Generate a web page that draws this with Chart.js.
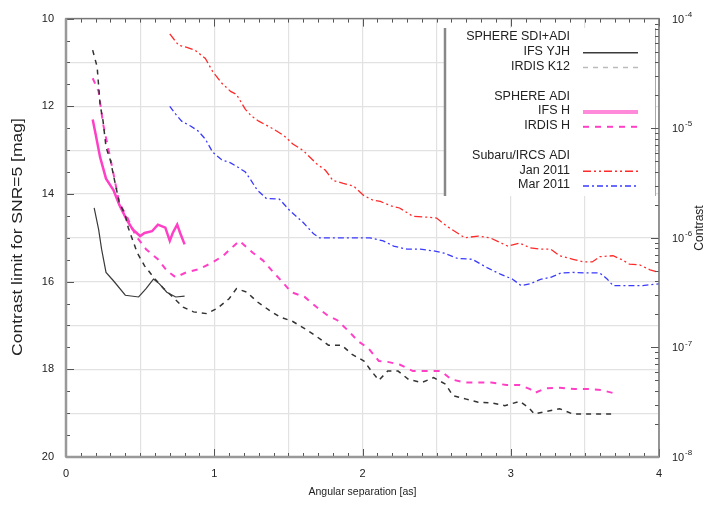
<!DOCTYPE html>
<html>
<head>
<meta charset="utf-8">
<title>Contrast curves</title>
<script src="https://cdn.jsdelivr.net/npm/chart.js@4.4.1/dist/chart.umd.min.js"></script>
<style>
  html, body { margin: 0; padding: 0; background: #fff; }
  #wrap { width: 712px; height: 505px; }
</style>
</head>
<body>
<div id="wrap"><canvas id="contrast" width="712" height="505"></canvas></div>
<script>
// ===== DATA (separation in arcsec, contrast limit in mag) =====
const ifsYjhSep = [0.19, 0.22, 0.24, 0.27, 0.32, 0.40, 0.49, 0.54, 0.59, 0.63, 0.68, 0.74, 0.80];
const ifsYjhMag = [14.32, 14.81, 15.26, 15.79, 15.98, 16.31, 16.35, 16.16, 15.94, 16.05, 16.24, 16.35, 16.33];

const irdisK12Sep = [0.18, 0.21, 0.23, 0.25, 0.27, 0.30, 0.32, 0.36, 0.40, 0.42, 0.48, 0.53, 0.60, 0.66, 0.72, 0.79,
  0.86, 0.95, 1.02, 1.10, 1.15, 1.22, 1.29, 1.37, 1.44, 1.53, 1.61, 1.69, 1.77, 1.86, 1.93, 2.01, 2.06, 2.11, 2.17,
  2.24, 2.31, 2.40, 2.48, 2.56, 2.61, 2.70, 2.78, 2.88, 2.96, 3.06, 3.12, 3.16, 3.24, 3.33, 3.42, 3.51, 3.60, 3.69];
const irdisK12Mag = [10.72, 11.10, 11.96, 12.34, 12.93, 13.24, 13.57, 14.21, 14.48, 14.77, 15.34, 15.64, 15.94, 16.16,
  16.35, 16.58, 16.69, 16.73, 16.61, 16.39, 16.16, 16.24, 16.46, 16.65, 16.80, 16.91, 17.07, 17.25, 17.45, 17.45,
  17.66, 17.81, 18.04, 18.25, 18.04, 18.04, 18.23, 18.30, 18.19, 18.34, 18.60, 18.68, 18.75, 18.77, 18.83, 18.73,
  18.87, 19.02, 18.96, 18.90, 19.02, 19.02, 19.02, 19.02];

const ifsHSep = [0.18, 0.20, 0.23, 0.27, 0.32, 0.36, 0.41, 0.45, 0.50, 0.53, 0.58, 0.62, 0.67, 0.70, 0.72, 0.75, 0.77, 0.80];
const ifsHMag = [12.30, 12.64, 13.16, 13.65, 13.91, 14.25, 14.59, 14.81, 14.96, 14.89, 14.85, 14.70, 14.77, 15.07,
  14.89, 14.70, 14.89, 15.15];

const irdisHSep = [0.18, 0.22, 0.25, 0.30, 0.36, 0.41, 0.47, 0.54, 0.62, 0.68, 0.74, 0.81, 0.90, 0.99, 1.06, 1.13,
  1.17, 1.26, 1.33, 1.40, 1.46, 1.52, 1.61, 1.69, 1.76, 1.83, 1.91, 1.97, 2.04, 2.11, 2.17, 2.25, 2.34, 2.43, 2.53,
  2.60, 2.69, 2.79, 2.87, 2.97, 3.06, 3.13, 3.16, 3.24, 3.33, 3.43, 3.52, 3.61, 3.70];
const irdisHMag = [11.36, 11.66, 12.40, 13.20, 14.21, 14.51, 14.95, 15.26, 15.49, 15.75, 15.90, 15.79, 15.71, 15.56,
  15.41, 15.19, 15.07, 15.34, 15.52, 15.79, 16.01, 16.24, 16.35, 16.58, 16.76, 16.88, 17.14, 17.36, 17.52, 17.81,
  17.83, 17.89, 18.04, 18.04, 18.04, 18.23, 18.30, 18.30, 18.30, 18.36, 18.36, 18.45, 18.54, 18.43, 18.42, 18.45,
  18.45, 18.47, 18.55];

const jan2011Sep = [0.70, 0.76, 0.81, 0.87, 0.94, 0.99, 1.05, 1.11, 1.15, 1.21, 1.25, 1.30, 1.40, 1.47, 1.53, 1.60,
  1.69, 1.75, 1.80, 1.87, 1.94, 2.01, 2.07, 2.12, 2.19, 2.25, 2.34, 2.44, 2.50, 2.57, 2.64, 2.69, 2.78, 2.86, 2.93,
  2.98, 3.06, 3.13, 3.20, 3.27, 3.33, 3.42, 3.49, 3.55, 3.60, 3.69, 3.75, 3.80, 3.87, 3.94, 4.00];
const jan2011Mag = [10.35, 10.61, 10.65, 10.72, 10.91, 11.21, 11.47, 11.66, 11.73, 12.07, 12.22, 12.34, 12.52, 12.67,
  12.86, 13.01, 13.31, 13.46, 13.69, 13.76, 13.82, 14.04, 14.14, 14.17, 14.27, 14.32, 14.51, 14.53, 14.55, 14.74,
  14.89, 15.00, 14.96, 15.00, 15.11, 15.19, 15.12, 15.23, 15.26, 15.26, 15.41, 15.49, 15.55, 15.55, 15.43, 15.41,
  15.50, 15.60, 15.62, 15.73, 15.79];

const mar2011Sep = [0.70, 0.74, 0.78, 0.84, 0.89, 0.94, 0.99, 1.05, 1.11, 1.16, 1.21, 1.24, 1.29, 1.35, 1.44, 1.51,
  1.60, 1.67, 1.71, 1.80, 1.89, 1.96, 2.05, 2.14, 2.21, 2.30, 2.39, 2.48, 2.55, 2.64, 2.74, 2.84, 2.93, 3.01, 3.07,
  3.13, 3.20, 3.27, 3.34, 3.42, 3.51, 3.60, 3.65, 3.69, 3.78, 3.89, 4.00];
const mar2011Mag = [12.00, 12.18, 12.34, 12.45, 12.56, 12.75, 13.05, 13.22, 13.29, 13.39, 13.50, 13.65, 13.91, 14.10,
  14.12, 14.38, 14.65, 14.91, 15.00, 15.00, 15.00, 15.00, 15.00, 15.07, 15.19, 15.26, 15.26, 15.30, 15.35, 15.47,
  15.49, 15.68, 15.83, 15.94, 16.09, 16.05, 15.95, 15.90, 15.80, 15.79, 15.80, 15.80, 15.94, 16.09, 16.09, 16.09, 16.05];

// axis ticks
const sepTicks = [0, 1, 2, 3, 4];
const magTicks = [10, 12, 14, 16, 18, 20];
const contrastExp = [-4, -5, -6, -7, -8];

// legend layout: headings have no dataset, '' is a spacer row
const legendRows = [
  { text: 'SPHERE SDI+ADI' }, { set: 0 }, { set: 1 }, { text: '' },
  { text: 'SPHERE ADI' }, { set: 2 }, { set: 3 }, { text: '' },
  { text: 'Subaru/IRCS ADI' }, { set: 4 }, { set: 5 }
];

const FONT = "'Liberation Sans', Arial, Helvetica, sans-serif";
const zip = (xs, ys) => xs.map((x, i) => ({ x, y: ys[i] }));

function series(label, xs, ys, color, width, dash, legendColor) {
  return {
    label, data: zip(xs, ys),
    borderColor: color, backgroundColor: color,
    borderWidth: width, borderDash: dash,
    pointRadius: 0, tension: 0, fill: false,
    legendColor: legendColor || color
  };
}

// rotated / stretched text helper
function drawText(ctx, s, x, y, size, rot, stretch, align) {
  ctx.save();
  ctx.translate(x, y);
  ctx.rotate(rot || 0);
  ctx.scale(stretch || 1, 1);
  ctx.font = size + 'px ' + FONT;
  ctx.textAlign = align || 'center';
  ctx.textBaseline = 'middle';
  ctx.fillText(s, 0, 0);
  ctx.restore();
}

const framePlugin = {
  id: 'frame',
  afterDatasetsDraw(chart) {
    const { ctx, chartArea: a, scales } = chart;
    const sx = scales.x, sy = scales.y, sr = scales.y2;
    const seg = (x1, y1, x2, y2) => { ctx.beginPath(); ctx.moveTo(x1, y1); ctx.lineTo(x2, y2); ctx.stroke(); };
    ctx.save();

    // legend panel
    const lx0 = 445, lx1 = 655, ly0 = 28, ly1 = 196;
    ctx.fillStyle = '#fff';
    ctx.fillRect(lx0, ly0, lx1 - lx0, ly1 - ly0);
    ctx.strokeStyle = '#888';
    ctx.lineWidth = 2.5;
    seg(lx0, ly0, lx0, ly1);
    ctx.strokeStyle = '#aaa';
    ctx.lineWidth = 1;
    seg(lx1 + 0.5, ly0, lx1 + 0.5, ly1);
    ctx.fillStyle = '#222';
    legendRows.forEach((r, i) => {
      const ry = 37 + i * 14.8;
      if (r.set === undefined) {
        if (r.text) drawText(ctx, r.text, 570, ry, 12.5, 0, 1, 'right');
        return;
      }
      const ds = chart.data.datasets[r.set];
      ctx.fillStyle = '#222';
      drawText(ctx, ds.label, 570, ry, 12.5, 0, 1, 'right');
      ctx.save();
      ctx.strokeStyle = ds.legendColor;
      ctx.lineWidth = r.set === 2 ? 4 : Math.max(ds.borderWidth, 1.5);
      ctx.setLineDash(ds.borderDash || []);
      seg(583, ry + 1, 638, ry + 1);
      ctx.restore();
    });

    // inward tick marks
    ctx.strokeStyle = '#555';
    ctx.lineWidth = 1;
    for (let i = 0; i <= 40; i++) {
      const px = Math.round(sx.getPixelForValue(i / 10)) + 0.5;
      const len = i % 10 === 0 ? 8 : 4;
      seg(px, a.bottom, px, a.bottom - len);
      seg(px, a.top, px, a.top + len);
    }
    for (let m = 10; m <= 20; m += 0.5) {
      const py = Math.round(sy.getPixelForValue(m)) + 0.5;
      const len = m % 2 === 0 ? 8 : 4;
      seg(a.left, py, a.left + len, py);
    }
    for (let e = -8; e < -4; e++) {
      for (let k = 1; k <= 9; k++) {
        const py = Math.round(sr.getPixelForValue(k * Math.pow(10, e))) + 0.5;
        seg(a.right, py, a.right - (k === 1 ? 8 : 4), py);
      }
    }

    // frame
    ctx.strokeStyle = '#777';
    ctx.lineWidth = 1.5;
    ctx.strokeRect(a.left, a.top, a.right - a.left, a.bottom - a.top);
    ctx.strokeStyle = '#999';
    ctx.lineWidth = 2.5;
    seg(a.left, a.top, a.left, a.bottom);
    seg(a.left, a.bottom, a.right, a.bottom);

    // right axis labels, 10^n
    ctx.fillStyle = '#222';
    contrastExp.forEach(e => {
      const py = sr.getPixelForValue(Math.pow(10, e));
      drawText(ctx, '10', 672, py + 1, 11, 0, 1, 'left');
      drawText(ctx, String(e), 685, py - 4, 8, 0, 1, 'left');
    });

    // axis titles
    drawText(ctx, 'Contrast limit for SNR=5 [mag]', 18, 237, 14, -Math.PI / 2, 1.25);
    drawText(ctx, 'Angular separation [as]', (a.left + a.right) / 2, 492, 10.5, 0, 1);
    drawText(ctx, 'Contrast', 700, 228, 12, -Math.PI / 2, 1);
    ctx.restore();
  }
};

new Chart(document.getElementById('contrast'), {
  type: 'line',
  data: {
    datasets: [
      series('IFS YJH', ifsYjhSep, ifsYjhMag, '#3a3a3a', 1.2, []),
      series('IRDIS K12', irdisK12Sep, irdisK12Mag, '#333', 1.5, [5, 5], '#bbb'),
      series('IFS H', ifsHSep, ifsHMag, '#ff3fc6', 2.5, [], '#ff8ada'),
      series('IRDIS H', irdisHSep, irdisHMag, '#ff3fc6', 2, [6, 6]),
      series('Jan 2011', jan2011Sep, jan2011Mag, '#ff2a2a', 1.3, [8, 3, 2, 3, 2, 3]),
      series('Mar 2011', mar2011Sep, mar2011Mag, '#3a3aff', 1.3, [6, 3, 2, 3])
    ]
  },
  options: {
    responsive: false,
    animation: false,
    layout: { padding: { top: 13, left: 0, right: 0, bottom: 0 } },
    plugins: { legend: { display: false }, tooltip: { enabled: false } },
    scales: {
      x: {
        type: 'linear', position: 'bottom', min: 0, max: 4,
        border: { display: false },
        grid: { color: '#e2e2e2', lineWidth: 1.2, drawTicks: false },
        ticks: {
          stepSize: 0.5, padding: 10, color: '#222', font: { family: FONT, size: 11 },
          callback: v => sepTicks.includes(v) ? String(v) : ''
        },
        afterFit: s => { s.height = 48; }
      },
      y: {
        type: 'linear', position: 'left', min: 10, max: 20, reverse: true,
        border: { display: false },
        grid: { color: '#e2e2e2', lineWidth: 1.2, drawTicks: false },
        ticks: {
          stepSize: 1, padding: 12, color: '#222', font: { family: FONT, size: 11 },
          callback: v => magTicks.includes(v) ? String(v) : ''
        },
        afterFit: s => { s.width = 66; }
      },
      y2: {
        // 10^-4 at the top, aligned with 10 mag on the left axis
        type: 'logarithmic', position: 'right', min: 1e-8, max: 1e-4,
        border: { display: false },
        grid: { display: false },
        ticks: { display: false },
        afterFit: s => { s.width = 53; }
      }
    }
  },
  plugins: [framePlugin]
});
</script>
</body>
</html>
